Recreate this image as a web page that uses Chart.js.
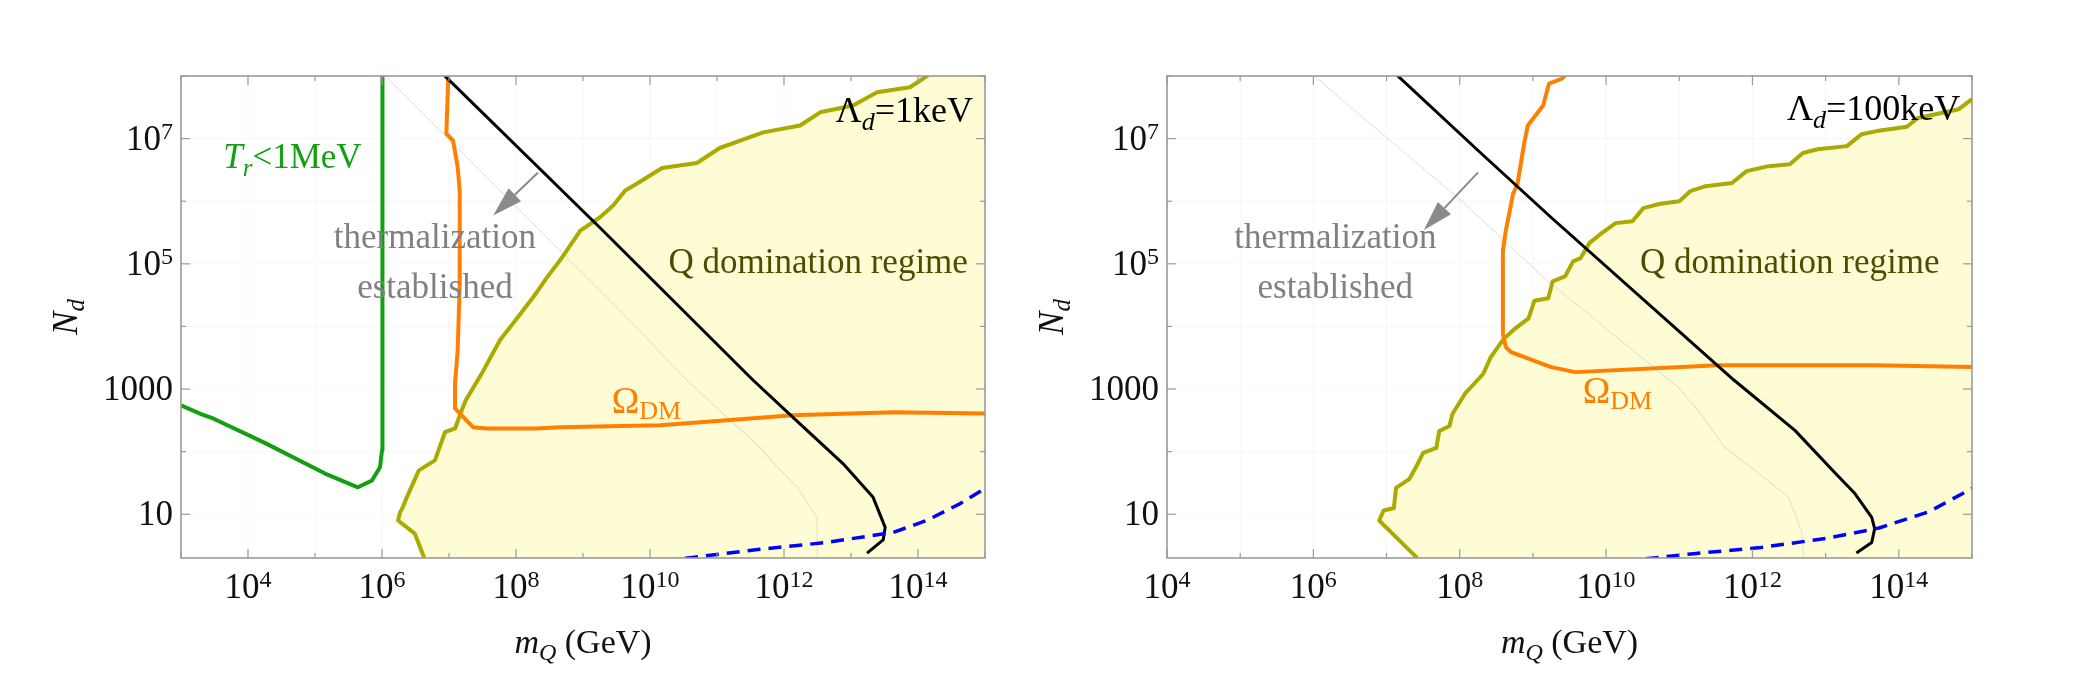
<!DOCTYPE html>
<html>
<head>
<meta charset="utf-8">
<script src="https://cdn.jsdelivr.net/npm/chart.js@4.4.1/dist/chart.umd.min.js"></script>
<style>
  html, body { margin: 0; padding: 0; background: #fff; }
  #wrap { position: relative; width: 2084px; height: 682px; }
  canvas { position: absolute; top: 0; }
  #c1 { left: 0; }
  #c2 { left: 1000px; }
</style>
</head>
<body>
<div id="wrap">
  <canvas id="c1" width="1000" height="682"></canvas>
  <canvas id="c2" width="1084" height="682"></canvas>
</div>
<script>
'use strict';

const SERIF = "'Liberation Serif', 'Times New Roman', serif";
const GREEN = '#12a012', ORANGE = '#ff7f00', OLIVE = '#aaaa00', OLIVE_TXT = '#4d4d00', GRAY_TXT = '#808080';
const FILL = '#fdfcd4';

// tick positions (log10) and labels, '^' marks the exponent
const X_TICKS = [4, 6, 8, 10, 12, 14];
const X_TICK_LABELS = ['10^4', '10^6', '10^8', '10^10', '10^12', '10^14'];
const Y_TICKS = [1, 3, 5, 7];
const Y_TICK_LABELS = ['10', '1000', '10^5', '10^7'];

// curves as [log10 mQ, log10 Nd] -- Λd = 1 keV
const OLIVE_1 = [[6.63,0.30],[6.49,0.69],[6.24,0.90],[6.27,1.03],[6.31,1.11],[6.37,1.27],[6.55,1.70],[6.79,1.86],[6.94,2.31],[7.09,2.37],
  [7.19,2.66],[7.25,2.82],[7.49,3.25],[7.76,3.78],[8.03,4.15],[8.30,4.53],[8.46,4.78],[8.66,5.06],[8.96,5.53],[9.25,5.74],
  [9.45,5.93],[9.63,6.17],[9.82,6.29],[10.18,6.53],[10.70,6.61],[11.04,6.85],[11.69,7.10],[12.24,7.21],[12.54,7.42],
  [13.03,7.53],[13.39,7.74],[13.88,7.82],[14.15,8.01]];
// shaded Q-domination region: bottom edge, olive boundary, top-right corner
const REGION_1 = [[6.24, 0.30], ...OLIVE_1, [15, 8]];
const ORANGE_1 = [[6.99,8.01],[6.96,7.08],[7.06,6.97],[7.13,6.54],[7.16,6.17],[7.16,4.69],[7.13,3.62],[7.09,3.09],[7.09,2.69],
  [7.16,2.61],[7.36,2.39],[7.57,2.37],[8.30,2.37],[8.66,2.39],[10.15,2.42],[11.15,2.50],[12.13,2.58],[13.63,2.63],[15.0,2.61]];
const GREEN_1 = [[3.0,2.74],[3.3,2.60],[3.48,2.53],[4.25,2.14],[5.15,1.65],[5.64,1.43],[5.85,1.54],[5.97,1.75],[6.0,2.02],
  [6.0,2.82],[6.01,5.0],[6.01,8.05]];
const BLACK_1 = [[6.93,8.01],[9.25,5.58],[11.54,3.14],[12.13,2.55],[12.88,1.81],[13.33,1.27],[13.51,0.79],[13.48,0.59],[13.24,0.38]];
const BLUE_1 = [[9.9,0.22],[10.64,0.31],[11.64,0.44],[12.64,0.55],[13.63,0.71],[14.13,0.90],[14.63,1.17],[15.0,1.41]];
const FAINT_1 = [[6.05,8.0],[9.51,4.30],[10.55,3.14],[11.64,2.07],[11.9,1.75],[12.2,1.43],[12.49,0.95],[12.5,0.3]];

// Λd = 100 keV
const OLIVE_2 = [[7.42,0.30],[7.15,0.61],[6.90,0.90],[6.96,1.06],[7.10,1.10],[7.13,1.42],[7.31,1.56],[7.41,1.77],[7.50,1.98],
  [7.68,2.06],[7.72,2.33],[7.86,2.41],[7.90,2.60],[8.08,2.94],[8.32,3.24],[8.42,3.50],[8.60,3.80],[8.76,3.97],[8.94,4.13],
  [9.02,4.41],[9.21,4.45],[9.27,4.72],[9.44,4.80],[9.55,5.04],[9.65,5.09],[9.77,5.33],[9.94,5.49],[10.13,5.65],[10.36,5.68],
  [10.51,5.89],[10.74,5.96],[11.0,6.0],[11.15,6.16],[11.36,6.24],[11.72,6.29],[11.92,6.48],[12.22,6.56],[12.51,6.59],
  [12.69,6.77],[12.89,6.83],[13.29,6.88],[13.49,7.07],[13.70,7.12],[14.11,7.19],[14.26,7.33],[14.82,7.47],[15.0,7.63]];
const REGION_2 = [[6.90, 0.30], ...OLIVE_2];
const ORANGE_2 = [[9.47,8.05],[9.40,7.96],[9.22,7.88],[9.14,7.53],[8.93,7.21],[8.88,6.92],[8.79,6.28],[8.73,6.12],[8.63,5.53],
  [8.59,5.21],[8.59,3.89],[8.63,3.67],[8.70,3.59],[9.25,3.35],[9.58,3.27],[11.52,3.38],[13.66,3.38],[15.01,3.35]];
const BLACK_2 = [[7.10,8.06],[8.25,6.81],[9.25,5.74],[11.75,3.14],[12.58,2.34],[13.12,1.67],[13.40,1.33],[13.63,0.95],
  [13.67,0.77],[13.63,0.55],[13.42,0.38]];
const BLUE_2 = [[9.97,0.22],[11.2,0.37],[12.12,0.47],[13.04,0.62],[13.73,0.78],[14.41,1.04],[15.03,1.43]];
const FAINT_2 = [[6.0,8.02],[6.19,7.82],[7.42,6.60],[8.05,5.98],[9.15,4.78],[10.99,3.02],[11.3,2.6],[11.62,2.07],[12.22,1.53],
  [12.49,1.27],[12.67,0.74],[12.7,0.3]];

const pts = arr => arr.map(([x, y]) => ({ x: 10 ** x, y: 10 ** y }));
const fnt = (style, size) => `${style} ${size}px ${SERIF}`;

function lineDs(data, color, width, order, extra) {
  return Object.assign({
    data: pts(data), borderColor: color, borderWidth: width, order,
    pointRadius: 0, pointHitRadius: 0, fill: false, tension: 0, clip: 0,
    borderJoinStyle: 'round'
  }, extra || {});
}

function decades(scale) {
  const out = [];
  for (let e = Math.ceil(Math.log10(scale.min) - 1e-9); e <= Math.log10(scale.max) + 1e-9; e++) out.push(e);
  return out;
}

function seg(ctx, x1, y1, x2, y2) { ctx.beginPath(); ctx.moveTo(x1, y1); ctx.lineTo(x2, y2); ctx.stroke(); }

function drawRuns(ctx, runs, x, y, align) {
  let w = 0;
  runs.forEach(r => { ctx.font = r.f; r.w = ctx.measureText(r.t).width; w += r.w; });
  let cx = align === 'center' ? x - w / 2 : align === 'right' ? x - w : x;
  runs.forEach(r => { ctx.font = r.f; ctx.fillStyle = r.c; ctx.fillText(r.t, cx, y + (r.dy || 0)); cx += r.w; });
}

// "10^7" -> base run + raised exponent run
function tickRuns(label) {
  const [base, exp] = label.split('^');
  const runs = [{ t: base, f: fnt('normal', 35), c: '#111' }];
  if (exp) runs.push({ t: exp, f: fnt('normal', 24), c: '#111', dy: -11 });
  return runs;
}

function decor(spec) {
  return {
    id: 'decor',
    beforeDatasetsDraw(chart) {
      const { ctx, chartArea: a, scales: { x, y } } = chart;
      ctx.save();
      ctx.strokeStyle = 'rgba(0,0,0,0.035)';
      ctx.lineWidth = 1;
      decades(x).forEach(e => { const px = x.getPixelForValue(10 ** e); seg(ctx, px, a.top, px, a.bottom); });
      decades(y).forEach(e => { const py = y.getPixelForValue(10 ** e); seg(ctx, a.left, py, a.right, py); });
      ctx.restore();
    },
    afterDatasetsDraw(chart) {
      const { ctx, chartArea: a, scales: { x, y } } = chart;
      const X = v => x.getPixelForValue(10 ** v), Y = v => y.getPixelForValue(10 ** v);
      ctx.save();
      // inward ticks on all four sides
      ctx.strokeStyle = '#9a9a9a';
      ctx.lineWidth = 1.2;
      decades(x).forEach(e => {
        const px = X(e), L = X_TICKS.includes(e) ? 9 : 5;
        seg(ctx, px, a.bottom, px, a.bottom - L); seg(ctx, px, a.top, px, a.top + L);
      });
      decades(y).forEach(e => {
        const py = Y(e), L = Y_TICKS.includes(e) ? 9 : 5;
        seg(ctx, a.left, py, a.left + L, py); seg(ctx, a.right, py, a.right - L, py);
      });
      // frame
      ctx.lineWidth = 1.6;
      ctx.strokeRect(a.left, a.top, a.right - a.left, a.bottom - a.top);

      // tick labels, placed by the scales
      ctx.textBaseline = 'alphabetic';
      ctx.textAlign = 'left';
      x.ticks.forEach((t, i) => drawRuns(ctx, tickRuns(X_TICK_LABELS[i]), x.getPixelForTick(i), a.bottom + 40, 'center'));
      y.ticks.forEach((t, i) => drawRuns(ctx, tickRuns(Y_TICK_LABELS[i]), a.left - 8, y.getPixelForTick(i) + 11, 'right'));

      // arrow
      const [fx, fy] = [X(spec.arrow.from[0]), Y(spec.arrow.from[1])];
      const [tx, ty] = [X(spec.arrow.to[0]), Y(spec.arrow.to[1])];
      const ang = Math.atan2(ty - fy, tx - fx), HL = 30, HW = 9;
      const bx = tx - HL * Math.cos(ang), by = ty - HL * Math.sin(ang);
      ctx.strokeStyle = '#8a8a8a'; ctx.fillStyle = '#8a8a8a'; ctx.lineWidth = 2;
      seg(ctx, fx, fy, bx, by);
      ctx.beginPath();
      ctx.moveTo(tx, ty);
      ctx.lineTo(bx + HW * Math.sin(ang), by - HW * Math.cos(ang));
      ctx.lineTo(bx - HW * Math.sin(ang), by + HW * Math.cos(ang));
      ctx.closePath();
      ctx.fill();

      // text labels
      spec.labels.forEach(l => drawRuns(ctx, l.runs, X(l.at[0]), Y(l.at[1]), l.align));

      // axis titles
      drawRuns(ctx, [
        { t: 'm', f: fnt('italic', 34), c: '#111' },
        { t: 'Q', f: fnt('italic', 24), c: '#111', dy: 7 },
        { t: ' (GeV)', f: fnt('normal', 34), c: '#111' }
      ], (a.left + a.right) / 2, 653, 'center');
      ctx.translate(a.left - 104, (a.top + a.bottom) / 2);
      ctx.rotate(-Math.PI / 2);
      drawRuns(ctx, [
        { t: 'N', f: fnt('italic', 35), c: '#111' },
        { t: 'd', f: fnt('italic', 25), c: '#111', dy: 7 }
      ], 0, 0, 'center');
      ctx.restore();
    }
  };
}

function makeChart(id, sets, yWidth, padRight, spec) {
  const scaleBase = {
    type: 'logarithmic', bounds: 'data',
    grid: { display: false, drawTicks: false },
    border: { display: false }
  };
  return new Chart(document.getElementById(id), {
    type: 'line',
    data: { datasets: sets },
    options: {
      responsive: false, animation: false, events: [],
      layout: { padding: { top: 76, right: padRight, left: 0, bottom: 0 } },
      plugins: { legend: { display: false }, tooltip: { enabled: false } },
      scales: {
        x: Object.assign({}, scaleBase, {
          min: spec.xMin, max: 1e15,
          ticks: { display: false, autoSkip: false },
          afterBuildTicks: s => { s.ticks = X_TICKS.map(e => ({ value: 10 ** e })); },
          afterFit: s => { s.height = 124; s.paddingLeft = 0; s.paddingRight = 0; }
        }),
        y: Object.assign({}, scaleBase, {
          min: 2, max: 1e8,
          ticks: { display: false, autoSkip: false },
          afterBuildTicks: s => { s.ticks = Y_TICKS.map(e => ({ value: 10 ** e })); },
          afterFit: s => { s.width = yWidth; s.paddingTop = 0; s.paddingBottom = 0; }
        })
      }
    },
    plugins: [decor(spec)]
  });
}

function sets(region, olive, faint, green, orange, black, blue) {
  const out = [
    lineDs(region, 'rgba(0,0,0,0)', 0, 10, { fill: 'start', backgroundColor: FILL }),
    lineDs(olive, OLIVE, 4, 9),
    lineDs(faint, 'rgba(150,150,150,0.22)', 1.2, 8),
    lineDs(orange, ORANGE, 4, 4),
    lineDs(black, '#000', 3, 3),
    lineDs(blue, '#0000ff', 3.5, 2, { borderDash: [13, 8] })
  ];
  if (green) out.push(lineDs(green, GREEN, 4, 5));
  return out;
}

const thermal = (at1, at2) => [
  { at: at1, align: 'center', runs: [{ t: 'thermalization', f: fnt('normal', 35), c: GRAY_TXT }] },
  { at: at2, align: 'center', runs: [{ t: 'established', f: fnt('normal', 35), c: GRAY_TXT }] }
];
const omega = at => ({ at, align: 'left', runs: [
  { t: 'Ω', f: fnt('normal', 37), c: ORANGE },
  { t: 'DM', f: fnt('normal', 26), c: ORANGE, dy: 6 }
] });
const lambda = (at, val) => ({ at, align: 'right', runs: [
  { t: 'Λ', f: fnt('normal', 36), c: '#000' },
  { t: 'd', f: fnt('italic', 26), c: '#000', dy: 8 },
  { t: '=' + val, f: fnt('normal', 36), c: '#000' }
] });
const qdom = at => ({ at, align: 'center', runs: [{ t: 'Q domination regime', f: fnt('normal', 35), c: OLIVE_TXT }] });

makeChart('c1', sets(REGION_1, OLIVE_1, FAINT_1, GREEN_1, ORANGE_1, BLACK_1, BLUE_1), 181, 15, {
  xMin: 1e3,
  arrow: { from: [8.33, 6.46], to: [7.66, 5.77] },
  labels: [
    { at: [3.63, 6.53], align: 'left', runs: [
      { t: 'T', f: fnt('italic', 35), c: GREEN },
      { t: 'r', f: fnt('italic', 25), c: GREEN, dy: 8 },
      { t: '<1MeV', f: fnt('normal', 35), c: GREEN }
    ] },
    ...thermal([6.79, 5.25], [6.79, 4.45]),
    qdom([12.51, 4.85]),
    lambda([14.82, 7.26], '1keV'),
    omega([9.43, 2.61])
  ]
});

makeChart('c2', sets(REGION_2, OLIVE_2, FAINT_2, null, ORANGE_2, BLACK_2, BLUE_2), 167, 112, {
  xMin: 1e4,
  arrow: { from: [8.25, 6.46], to: [7.51, 5.54] },
  labels: [
    ...thermal([6.30, 5.25], [6.30, 4.45]),
    qdom([12.51, 4.85]),
    lambda([14.84, 7.29], '100keV'),
    omega([9.68, 2.78])
  ]
});
</script>
</body>
</html>
